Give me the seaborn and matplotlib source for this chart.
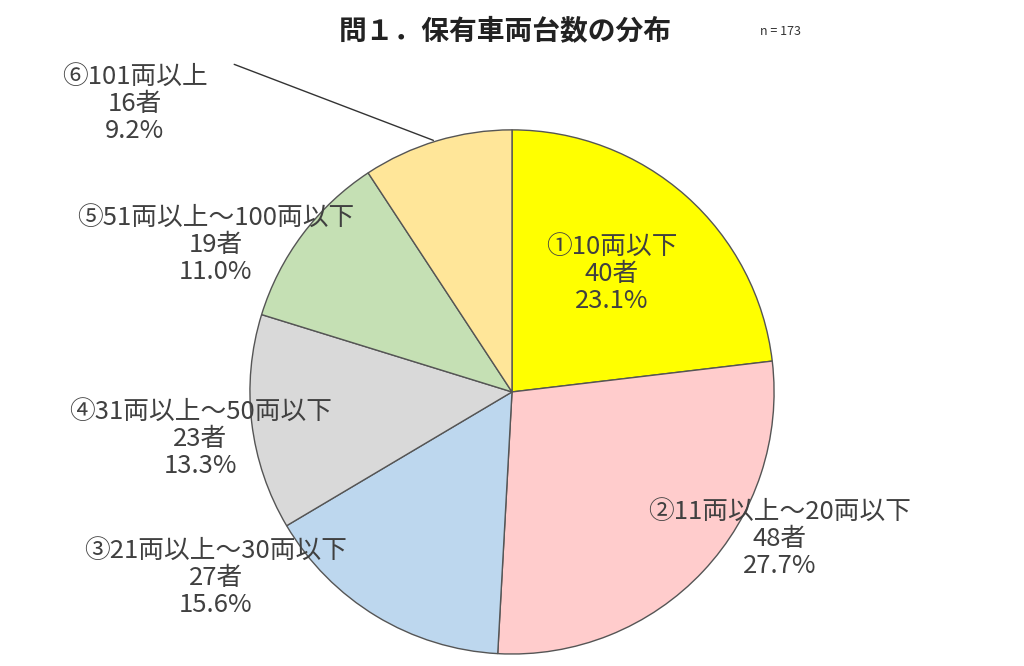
import matplotlib
matplotlib.use("Agg")
import matplotlib.pyplot as plt
import seaborn as sns

# -------------------------------------------------
# Data
# -------------------------------------------------
categories = ["①10両以下", "②11両以上～20両以下", "③21両以上～30両以下",
              "④31両以上～50両以下", "⑤51両以上～100両以下", "⑥101両以上"]
counts = [40, 48, 27, 23, 19, 16]
percents = ["23.1%", "27.7%", "15.6%", "13.3%", "11.0%", "9.2%"]
colors = ["#FFFF00", "#FFCCCC", "#BDD7EE", "#D9D9D9", "#C5E0B4", "#FFE699"]

# label anchor positions (pie radius = 1)
label_pos = [(0.38, 0.45), (1.02, -0.56), (-1.13, -0.71),
             (-1.19, -0.18), (-1.13, 0.56), (-1.44, 1.10)]

sns.set_theme(style="white")
plt.rcParams["font.family"] = ["Noto Sans CJK JP", "DejaVu Sans"]

fig = plt.figure(figsize=(10.24, 6.66), dpi=100)
ax = fig.add_axes([0.244, 0.018, 0.512, 0.787])

ax.pie(counts, colors=colors, startangle=90, counterclock=False,
       wedgeprops=dict(edgecolor="#555555", linewidth=1.0))
ax.set_xlim(-1, 1)
ax.set_ylim(-1, 1)
ax.set_aspect("equal")
ax.axis("off")

for cat, n, pct, (x, y) in zip(categories, counts, percents, label_pos):
    ax.text(x, y, f"{cat}\n{n}者\n{pct}", ha="center", va="center",
            fontsize=18.5, color="#404040", linespacing=1.05, clip_on=False)

# leader line for smallest slice
ax.plot([-1.06, -0.30], [1.25, 0.96], color="#333333", linewidth=1.0,
        clip_on=False)

fig.text(0.493, 0.953, "問１．保有車両台数の分布", ha="center", va="center",
         fontsize=20, fontweight="bold", color="#222222")
fig.text(0.742, 0.953, "n = 173", ha="left", va="center",
         fontsize=9, color="#333333")

plt.savefig("out.png", dpi=100)
plt.close()
